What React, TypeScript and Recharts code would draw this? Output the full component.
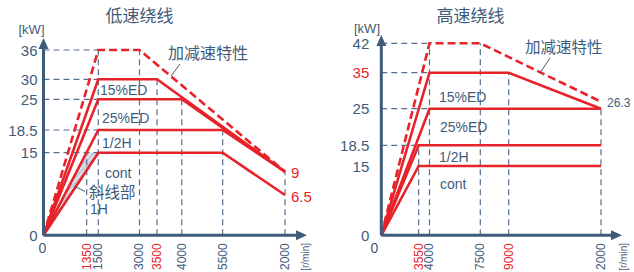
import { ComposedChart, Line, Area, XAxis, YAxis, ReferenceLine, ReferenceDot } from 'recharts';

const RED = '#e8222a';
const INK = '#3f5b7a';
const GUIDE = '#566f8e';
const FONT = '"Liberation Sans", Arial, "Noto Sans CJK SC", sans-serif';
const CJK = '"Noto Sans CJK SC", "Liberation Sans", sans-serif';

// ---- 低速绕线 ----
const lowXTicks = [0, 1350, 1500, 3000, 3500, 4000, 5500, 20000];
const lowXLabels = ['0', '1350', '1500', '3000', '3500', '4000', '5500', '2000'];
const lowXRed = [1350, 3500];
const lowYTicks = [0, 15, 18.5, 25, 30, 36];
const lowYRed: number[] = [];

const lowRpmAccel = [0, 1500, 3000, 20000];
const lowKwAccel = [0, 36, 36, 9];
const lowRpm15 = [0, 1500, 3500, 20000];
const lowKw15 = [0, 30, 30, 9];
const lowRpm25 = [0, 1500, 4000, 20000];
const lowKw25 = [0, 25, 25, 9];
const lowRpmHalf = [0, 1500, 5500, 20000];
const lowKwHalf = [0, 18.5, 18.5, 9];
const lowRpmCont = [0, 1500, 5500, 20000];
const lowKwCont = [0, 15, 15, 6.5];
// hatched 1H part, above the cont ramp
const lowRpm1H = [0, 1350, 1500];
const lowKw1H = [0, 15, 15];

// dashed guides: [kW, rpm]
const lowGuideH = [[36, 1500], [30, 1500], [25, 1500], [18.5, 1500], [15, 1500]];
const lowGuideV = [[1350, 15], [1500, 36], [3000, 36], [3500, 30], [4000, 25], [5500, 18.5], [20000, 9]];

// ---- 高速绕线 ----
const highXTicks = [0, 3550, 4000, 7500, 9000, 20000];
const highXLabels = ['0', '3550', '4000', '7500', '9000', '2000'];
const highXRed = [3550, 9000];
const highYTicks = [0, 15, 18.5, 25, 35, 42];
const highYRed = [35];

const highRpmAccel = [0, 4000, 7500, 20000];
const highKwAccel = [0, 42, 42, 26.3];
const highRpm15 = [0, 4000, 9000, 20000];
const highKw15 = [0, 35, 35, 25];
const highRpm25 = [0, 4000, 20000];
const highKw25 = [0, 25, 25];
const highRpmHalf = [0, 3550, 20000];
const highKwHalf = [0, 18.5, 18.5];
const highRpmCont = [0, 3550, 20000];
const highKwCont = [0, 15, 15];

const highGuideH = [[42, 4000], [35, 4000], [25, 4000], [18.5, 3550]];
const highGuideV = [[3550, 18.5], [4000, 42], [7500, 42], [9000, 35], [20000, 25]];

// the drawing's axes are schematic, not linear: value -> px from origin
const lowXScale = { vals: [0, 1350, 1500, 3000, 3500, 4000, 5500, 20000], pos: [0, 43.2, 54.8, 96, 113.5, 138.3, 179.2, 241.5] };
const lowYScale = { vals: [0, 6.5, 9, 15, 18.5, 25, 30, 36], pos: [0, 40.3, 63.6, 82.6, 105.3, 136, 156, 185.3] };
const highXScale = { vals: [0, 3550, 4000, 7500, 9000, 20000], pos: [0, 37.4, 48.2, 99, 127.4, 219.7] };
const highYScale = { vals: [0, 15, 18.5, 25, 26.3, 35, 42], pos: [0, 69.3, 90, 126.6, 133.6, 162.6, 192] };

function piecewise(s: { vals: number[]; pos: number[] }) {
  return (v: number) => {
    for (let i = 1; i < s.vals.length; i++) {
      if (v <= s.vals[i]) {
        const t = (v - s.vals[i - 1]) / (s.vals[i] - s.vals[i - 1]);
        return s.pos[i - 1] + t * (s.pos[i] - s.pos[i - 1]);
      }
    }
    return s.pos[s.pos.length - 1];
  };
}

type Series = { rpm: number[]; kw: number[]; dashed?: boolean };
type EndLabel = { rpm: number; kw: number; text: string; color: string; size: number };

const panels = [
  {
    left: 0,
    margin: { top: 44, right: 16, bottom: 6.7, left: 3.5 },
    yAxisWidth: 40,
    tickGap: 6,
    zeroShift: -1,
    xMax: 257.5,
    yMax: 191.3,
    xs: lowXScale,
    ys: lowYScale,
    xTicks: lowXTicks,
    xLabels: lowXLabels,
    xRed: lowXRed,
    yTicks: lowYTicks,
    yRed: lowYRed,
    series: [
      { rpm: lowRpmCont, kw: lowKwCont },
      { rpm: lowRpmHalf, kw: lowKwHalf },
      { rpm: lowRpm25, kw: lowKw25 },
      { rpm: lowRpm15, kw: lowKw15 },
      { rpm: lowRpmAccel, kw: lowKwAccel, dashed: true },
    ] as Series[],
    hatch: { rpm: lowRpm1H, kw: lowKw1H, under: [1500, 15] },
    guideH: lowGuideH,
    guideV: lowGuideV,
    ends: [
      { rpm: 20000, kw: 9, text: '9', color: RED, size: 15 },
      { rpm: 20000, kw: 6.5, text: '6.5', color: RED, size: 15 },
    ] as EndLabel[],
  },
  {
    left: 317,
    margin: { top: 41, right: 18, bottom: 6.7, left: 4.3 },
    yAxisWidth: 60,
    tickGap: 12,
    zeroShift: -7,
    xMax: 234.7,
    yMax: 194.3,
    xs: highXScale,
    ys: highYScale,
    xTicks: highXTicks,
    xLabels: highXLabels,
    xRed: highXRed,
    yTicks: highYTicks,
    yRed: highYRed,
    series: [
      { rpm: highRpmCont, kw: highKwCont },
      { rpm: highRpmHalf, kw: highKwHalf },
      { rpm: highRpm25, kw: highKw25 },
      { rpm: highRpm15, kw: highKw15 },
      { rpm: highRpmAccel, kw: highKwAccel, dashed: true },
    ] as Series[],
    hatch: null as null | { rpm: number[]; kw: number[]; under: number[] },
    guideH: highGuideH,
    guideV: highGuideV,
    ends: [{ rpm: 20000, kw: 26.3, text: '26.3', color: INK, size: 12 }] as EndLabel[],
  },
];

function Panel({ cfg }: { cfg: (typeof panels)[number] }) {
  const sx = piecewise(cfg.xs);
  const sy = piecewise(cfg.ys);
  const pts = (s: Series) => s.rpm.map((r, i) => ({ x: sx(r), y: sy(s.kw[i]) }));
  const xTickPos = cfg.xTicks.map(sx);
  const yTickPos = cfg.yTicks.map(sy);

  let band: { x: number; band: number[] }[] | undefined;
  if (cfg.hatch) {
    const h = cfg.hatch;
    const ux = sx(h.under[0]);
    const uy = sy(h.under[1]);
    band = h.rpm.map((r, i) => {
      const x = sx(r);
      const hi = sy(h.kw[i]);
      return { x, band: [Math.min(hi, (uy * x) / ux), hi] };
    });
  }

  const nearest = (arr: number[], v: number) => {
    let best = 0;
    arr.forEach((p, i) => {
      if (Math.abs(p - v) < Math.abs(arr[best] - v)) best = i;
    });
    return best;
  };

  const XTick = (props: any) => {
    const { x, y, payload } = props;
    const i = nearest(xTickPos, payload.value);
    const color = cfg.xRed.includes(cfg.xTicks[i]) ? RED : INK;
    if (i === 0) {
      return (
        <text x={x + cfg.zeroShift} y={y + 5} textAnchor="middle" dominantBaseline="central" fontSize={14} fill={INK} fontFamily={FONT}>
          {cfg.xLabels[i]}
        </text>
      );
    }
    return (
      <text x={x} y={y} transform={`rotate(-90 ${x} ${y})`} textAnchor="end" dominantBaseline="central" fontSize={12} fill={color} fontFamily={FONT}>
        {cfg.xLabels[i]}
      </text>
    );
  };

  const YTick = (props: any) => {
    const { x, y, payload } = props;
    const i = nearest(yTickPos, payload.value);
    const color = cfg.yRed.includes(cfg.yTicks[i]) ? RED : INK;
    return (
      <text x={x} y={y} textAnchor="end" dominantBaseline="central" fontSize={15} fill={color} fontFamily={FONT}>
        {String(cfg.yTicks[i])}
      </text>
    );
  };

  const arrowRight = (p: any) => (
    <polygon points={`${p.cx + 6},${p.cy} ${p.cx - 5},${p.cy - 5} ${p.cx - 5},${p.cy + 5}`} fill={INK} />
  );
  const arrowUp = (p: any) => (
    <polygon points={`${p.cx},${p.cy - 6} ${p.cx - 5},${p.cy + 5} ${p.cx + 5},${p.cy + 5}`} fill={INK} />
  );

  return (
    <div style={{ position: 'absolute', left: cfg.left, top: 0 }}>
      <ComposedChart width={317} height={272} margin={cfg.margin} data={band}>
        <defs>
          <pattern id={`hatch${cfg.left}`} patternUnits="userSpaceOnUse" width={4} height={4} patternTransform="rotate(45)">
            <rect width={4} height={4} fill="#c3cedb" />
            <line x1={0} y1={0} x2={0} y2={4} stroke="#ffffff" strokeWidth={1.4} />
          </pattern>
        </defs>
        <XAxis
          type="number"
          dataKey="x"
          domain={[0, cfg.xMax]}
          ticks={xTickPos}
          interval={0}
          tick={XTick}
          tickLine={false}
          tickSize={0}
          tickMargin={8}
          height={30}
          axisLine={{ stroke: INK, strokeWidth: 3 }}
        />
        <YAxis
          type="number"
          domain={[0, cfg.yMax]}
          ticks={yTickPos}
          interval={0}
          tick={YTick}
          tickLine={false}
          tickSize={0}
          tickMargin={cfg.tickGap}
          width={cfg.yAxisWidth}
          axisLine={{ stroke: INK, strokeWidth: 3 }}
        />
        {cfg.guideH.map(([kw, rpm], i) => (
          <ReferenceLine
            key={`h${i}`}
            segment={[{ x: 0, y: sy(kw) }, { x: sx(rpm), y: sy(kw) }]}
            stroke={GUIDE}
            strokeWidth={1.2}
            strokeDasharray="6 4"
          />
        ))}
        {cfg.guideV.map(([rpm, kw], i) => (
          <ReferenceLine
            key={`v${i}`}
            segment={[{ x: sx(rpm), y: 0 }, { x: sx(rpm), y: sy(kw) }]}
            stroke={GUIDE}
            strokeWidth={1.2}
            strokeDasharray="6 4"
          />
        ))}
        {band && (
          <Area
            type="linear"
            dataKey="band"
            stroke="none"
            fill={`url(#hatch${cfg.left}) #c9d3df`}
            fillOpacity={1}
            dot={false}
            activeDot={false}
            isAnimationActive={false}
          />
        )}
        {cfg.series.map((s, i) => (
          <Line
            key={i}
            type="linear"
            data={pts(s)}
            dataKey="y"
            stroke={RED}
            strokeWidth={2.6}
            strokeDasharray={s.dashed ? '8 4' : undefined}
            strokeLinejoin="miter"
            dot={false}
            activeDot={false}
            isAnimationActive={false}
          />
        ))}
        {cfg.ends.map((e, i) => (
          <ReferenceDot
            key={`e${i}`}
            x={sx(e.rpm)}
            y={sy(e.kw)}
            shape={(p: any) => (
              <text x={p.cx + 6} y={p.cy + 1} dominantBaseline="central" fontSize={e.size} fill={e.color} fontFamily={FONT}>
                {e.text}
              </text>
            )}
          />
        ))}
        <ReferenceDot x={cfg.xMax} y={0} shape={arrowRight} />
        <ReferenceDot x={0} y={cfg.yMax} shape={arrowUp} />
      </ComposedChart>
    </div>
  );
}

const T = (p: { x: number; y: number; s: number; c?: string; a?: 'start' | 'middle' | 'end'; f?: string; children: string }) => (
  <text x={p.x} y={p.y} fontSize={p.s} fill={p.c ?? INK} textAnchor={p.a ?? 'start'} dominantBaseline="central" fontFamily={p.f ?? FONT}>
    {p.children}
  </text>
);

export default function App() {
  return (
    <div style={{ position: 'absolute', left: 0, top: 0, width: 634, height: 272, background: '#fff', overflow: 'hidden' }}>
      {panels.map((cfg, i) => (
        <Panel key={i} cfg={cfg} />
      ))}
      <svg width={634} height={272} style={{ position: 'absolute', left: 0, top: 0, pointerEvents: 'none' }}>
        {/* left */}
        <T x={139.5} y={14} s={17} a="middle" f={CJK}>低速绕线</T>
        <T x={31.5} y={29} s={13} a="middle">[kW]</T>
        <T x={168} y={52} s={16} f={CJK}>加减速特性</T>
        <line x1={171} y1={76} x2={180} y2={64} stroke={INK} strokeWidth={1} />
        <T x={100} y={90} s={14}>15%ED</T>
        <T x={102} y={118} s={14}>25%ED</T>
        <T x={102} y={142.5} s={14}>1/2H</T>
        <T x={105} y={172.5} s={14}>cont</T>
        <T x={89} y={191} s={15.5} f={CJK}>斜线部</T>
        <T x={90} y={209} s={14}>1H</T>
        <line x1={74} y1={186} x2={85} y2={191.5} stroke={INK} strokeWidth={1} />
        <text x={305} y={243} transform="rotate(-90 305 243)" textAnchor="end" dominantBaseline="central" fontSize={10} fill={INK} fontFamily={FONT}>
          [r/min]
        </text>
        {/* right */}
        <T x={470.5} y={14} s={17} a="middle" f={CJK}>高速绕线</T>
        <T x={367} y={28} s={13} a="middle">[kW]</T>
        <T x={525} y={46} s={15.5} f={CJK}>加减速特性</T>
        <line x1={540} y1={73} x2={550} y2={58} stroke={INK} strokeWidth={1} />
        <T x={439} y={97} s={14}>15%ED</T>
        <T x={440} y={127} s={14}>25%ED</T>
        <T x={439} y={157} s={14}>1/2H</T>
        <T x={440} y={184} s={14}>cont</T>
        <text x={623.7} y={243} transform="rotate(-90 623.7 243)" textAnchor="end" dominantBaseline="central" fontSize={10} fill={INK} fontFamily={FONT}>
          [r/min]
        </text>
      </svg>
    </div>
  );
}
